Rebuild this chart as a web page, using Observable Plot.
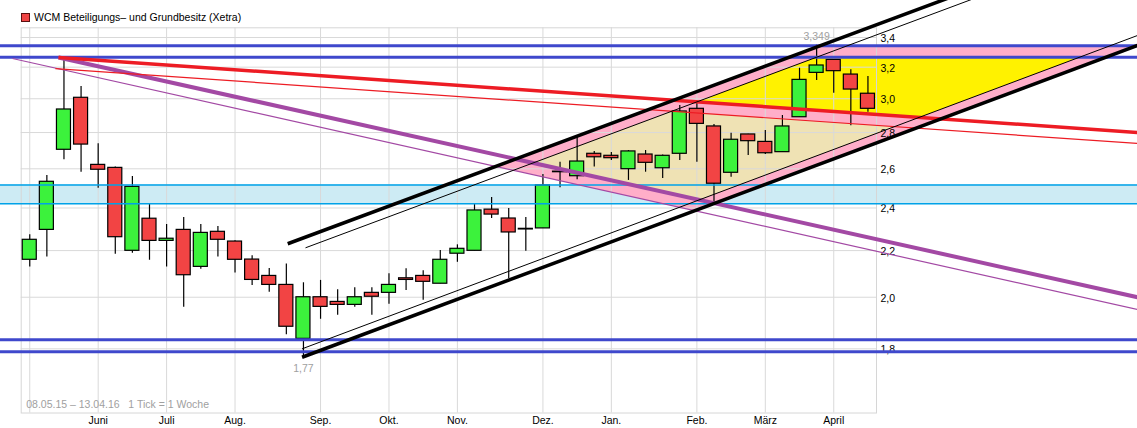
<!DOCTYPE html>
<html><head><meta charset="utf-8">
<script src="https://cdn.jsdelivr.net/npm/d3@7"></script>
<script src="https://cdn.jsdelivr.net/npm/@observablehq/plot@0.6"></script>
<style>
html,body{margin:0;padding:0;background:#fff;}
#wrap{position:relative;width:1137px;height:428px;overflow:hidden;}
#title{position:absolute;left:21px;top:11px;font:10.5px "Liberation Sans",Arial,sans-serif;color:#000;display:flex;align-items:center;white-space:nowrap;line-height:13px;}
#title .sw{display:inline-block;width:7px;height:7px;background:#f04444;border:1px solid #5a1010;margin-right:4px;}
</style></head><body>
<div id="wrap"><div id="chart"></div><div id="title"><span class="sw"></span><span id="ttext"></span></div></div>
<script>
// ---------- data ----------
const titleText = "WCM Beteiligungs– und Grundbesitz (Xetra)";
const captionText = "08.05.15 – 13.04.16   1 Tick = 1 Woche";
const weeks = d3.utcMonday.range(new Date(Date.UTC(2015,4,4)), new Date(Date.UTC(2016,3,12)));
const open  = [2.159,2.295,2.703,3.006,2.621,2.605,2.199,2.348,2.244,2.295,2.128,2.286,2.241,2.160,2.089,2.051,1.837,2.000,1.981,1.969,2.018,2.018,2.079,2.089,2.056,2.186,2.199,2.392,2.349,2.297,2.302,2.582,2.561,2.681,2.670,2.598,2.677,2.603,2.681,2.939,2.835,2.579,2.789,2.747,2.690,2.889,3.163,3.248,3.152,3.031];
const high  = [2.272,2.565,3.264,3.076,2.736,2.610,2.559,2.421,2.321,2.354,2.321,2.311,2.245,2.177,2.121,2.141,2.060,2.070,2.031,2.039,2.039,2.098,2.120,2.111,2.200,2.226,2.417,2.452,2.397,2.354,2.570,2.635,2.773,2.694,2.688,2.699,2.699,2.675,2.959,2.989,2.846,2.796,2.790,2.812,2.899,3.193,3.349,3.250,3.183,3.139];
const low   = [2.127,2.171,2.648,2.582,2.499,2.184,2.188,2.157,2.127,1.960,2.118,2.171,2.101,2.049,2.021,1.852,1.770,1.912,1.928,1.960,1.928,1.972,2.028,1.988,2.056,2.148,2.199,2.349,2.077,2.197,2.302,2.501,2.542,2.609,2.644,2.539,2.582,2.549,2.644,2.635,2.429,2.556,2.672,2.677,2.690,2.889,3.114,3.034,2.839,2.919];
const close = [2.249,2.532,2.935,2.732,2.595,2.261,2.506,2.244,2.254,2.092,2.281,2.249,2.159,2.072,2.051,1.883,2.000,1.961,1.969,2.000,2.002,2.051,2.072,2.064,2.159,2.208,2.388,2.368,2.283,2.300,2.513,2.585,2.639,2.662,2.657,2.694,2.632,2.670,2.923,2.850,2.522,2.759,2.751,2.684,2.835,3.118,3.211,3.174,3.057,2.939];
const monthNames = ["Jan.","Feb.","März","April","Mai","Juni","Juli","Aug.","Sep.","Okt.","Nov.","Dez."];
const yTicks = [1.8,2.0,2.2,2.4,2.6,2.8,3.0,3.2,3.4];
// trend lines (week index, price) at both ends
const trendW1 = [15.08, 16.12, 15.92, 15.92, 1.68, 1.50, 1.68, -1.01];
const trendP1 = [2.231, 2.2125, 1.7693, 1.800, 3.264, 3.191, 3.264, 3.257];
const trendW2 = [64.76, 64.76, 64.76, 64.76, 64.76, 64.76, 64.76, 64.76];
const trendP2 = [4.255, 4.170, 3.345, 3.414, 2.800, 2.738, 2.000, 1.9505];
const blueLevels = [3.343, 3.266, 1.834, 1.789];
const bandLevels = [2.516, 2.4206];

// ---------- layout ----------
const W = 1137, H = 428, mL = 20.7, mR = 261, mT = 27.3, mB = 15.5;
const xDom = [-0.5, 49.5];
const wAt = px => xDom[0] + (px - mL) / (W - mL - mR) * (xDom[1] - xDom[0]);
const GREEN = "#3cf23c", RED = "#f24444";

document.getElementById("ttext").textContent = titleText;

const candles = weeks.map((d, i) => ({i, date: d, open: open[i], high: high[i], low: low[i], close: close[i]}));
const monthTicks = [];
weeks.forEach((d, i) => {
  const sun = d3.utcDay.offset(d, 6);
  if (d.getUTCDate() === 1 || sun.getUTCMonth() !== d.getUTCMonth()) monthTicks.push(i);
});
const monthOf = i => monthNames[d3.utcDay.offset(weeks[i], 6).getUTCMonth()];
const gridWeeks = [0, ...monthTicks];

const trend = k => ({w1: trendW1[k], p1: trendP1[k], w2: trendW2[k], p2: trendP2[k]});
const [upThick, upThin, loThick, loThin, redThick, redThin, purThick, purThin] = d3.range(8).map(trend);
const hl = p => ({w1: 0, p1: p, w2: 1, p2: p});
function inter(a, b) {
  const ay1 = Math.log(a.p1), ay2 = Math.log(a.p2), by1 = Math.log(b.p1), by2 = Math.log(b.p2);
  const s1 = (ay2 - ay1) / (a.w2 - a.w1), s2 = (by2 - by1) / (b.w2 - b.w1);
  const w = (by1 - s2 * b.w1 - ay1 + s1 * a.w1) / (s1 - s2);
  return {w, p: Math.exp(ay1 + s1 * (w - a.w1))};
}
const pinkPoly = [inter(upThick, purThin), inter(upThick, hl(blueLevels[0])), inter(loThick, hl(blueLevels[0])), inter(loThick, purThin)];
const yellowPoly = [inter(upThin, redThick), inter(upThin, hl(blueLevels[1])), inter(loThin, hl(blueLevels[1])), inter(loThin, redThick)];
const beigePoly = [inter(upThin, purThick), inter(upThin, redThin), inter(loThin, redThin), inter(loThin, purThick)];

const iMax = d3.maxIndex(high), iMin = d3.minIndex(low);
const fmtDe = v => String(v).replace(".", ",");
const lineMark = (t, stroke, sw) => Plot.link([t], {x1: "w1", y1: "p1", x2: "w2", y2: "p2", stroke, strokeWidth: sw});

const chart = Plot.plot({
  width: W, height: H,
  marginLeft: mL, marginRight: mR, marginTop: mT, marginBottom: mB,
  style: {fontFamily: "'Liberation Sans', Arial, sans-serif", fontSize: "10.5px", background: "#fff"},
  x: {type: "linear", domain: xDom},
  y: {type: "log", domain: [1.5788, 3.468]},
  marks: [
    Plot.rect([0], {x1: () => wAt(0), x2: () => wAt(W), y1: () => bandLevels[0], y2: () => bandLevels[1], fill: "#cdebf4"}),
    Plot.line(pinkPoly, {x: "w", y: "p", fill: "#ffaec9", stroke: "none", curve: "linear-closed"}),
    Plot.line(yellowPoly, {x: "w", y: "p", fill: "#fff200", stroke: "none", curve: "linear-closed"}),
    Plot.line(beigePoly, {x: "w", y: "p", fill: "#efe2b4", stroke: "none", curve: "linear-closed"}),
    Plot.gridX(gridWeeks, {stroke: "#d9d9d9", strokeOpacity: 1}),
    Plot.gridY(yTicks, {stroke: "#d9d9d9", strokeOpacity: 1}),
    Plot.frame({stroke: "#d6d6d6"}),
    Plot.axisY(yTicks, {anchor: "right", tickSize: 0, tickPadding: 4, dy: 1, tickFormat: d => d.toFixed(1).replace(".", ","), fill: "#000"}),
    Plot.axisX(monthTicks, {anchor: "bottom", tickSize: 0, tickPadding: 4, tickFormat: monthOf, fill: "#000"}),
    Plot.ruleX(candles, {x: "i", y1: "low", y2: "high", stroke: "#000", strokeWidth: 1.2}),
    Plot.rect(candles, {x1: d => d.i - 0.41, x2: d => d.i + 0.41, y1: "open", y2: "close",
      fill: d => d.close >= d.open ? GREEN : RED, stroke: "#000", strokeWidth: 1.2}),
    Plot.ruleY(bandLevels, {x1: () => wAt(0), x2: () => wAt(W), stroke: "#00a2e8", strokeWidth: 1.5}),
    Plot.ruleY(blueLevels, {x1: () => wAt(0), x2: () => wAt(W), stroke: "#3f48cc", strokeWidth: 3}),
    lineMark(purThin, "#a349a4", 1.2),
    lineMark(purThick, "#a349a4", 4),
    lineMark(redThin, "#ed1c24", 1.2),
    lineMark(redThick, "#ed1c24", 3.5),
    lineMark(upThin, "#000", 1),
    lineMark(loThin, "#000", 1),
    lineMark(upThick, "#000", 3.5),
    lineMark(loThick, "#000", 3.5),
    Plot.text([candles[iMax]], {x: "i", y: "high", text: d => fmtDe(d.high), dy: -8, fill: "#a0a0a0"}),
    Plot.text([candles[iMin]], {x: "i", y: "low", text: d => fmtDe(d.low), dy: 12, fill: "#a0a0a0"}),
    Plot.text([captionText], {frameAnchor: "bottom-left", text: d => d, dx: 5, dy: -5, fill: "#a0a0a0", textAnchor: "start"})
  ],
  color: {type: "identity"}
});
document.getElementById("chart").appendChild(chart);
</script>
</body></html>
